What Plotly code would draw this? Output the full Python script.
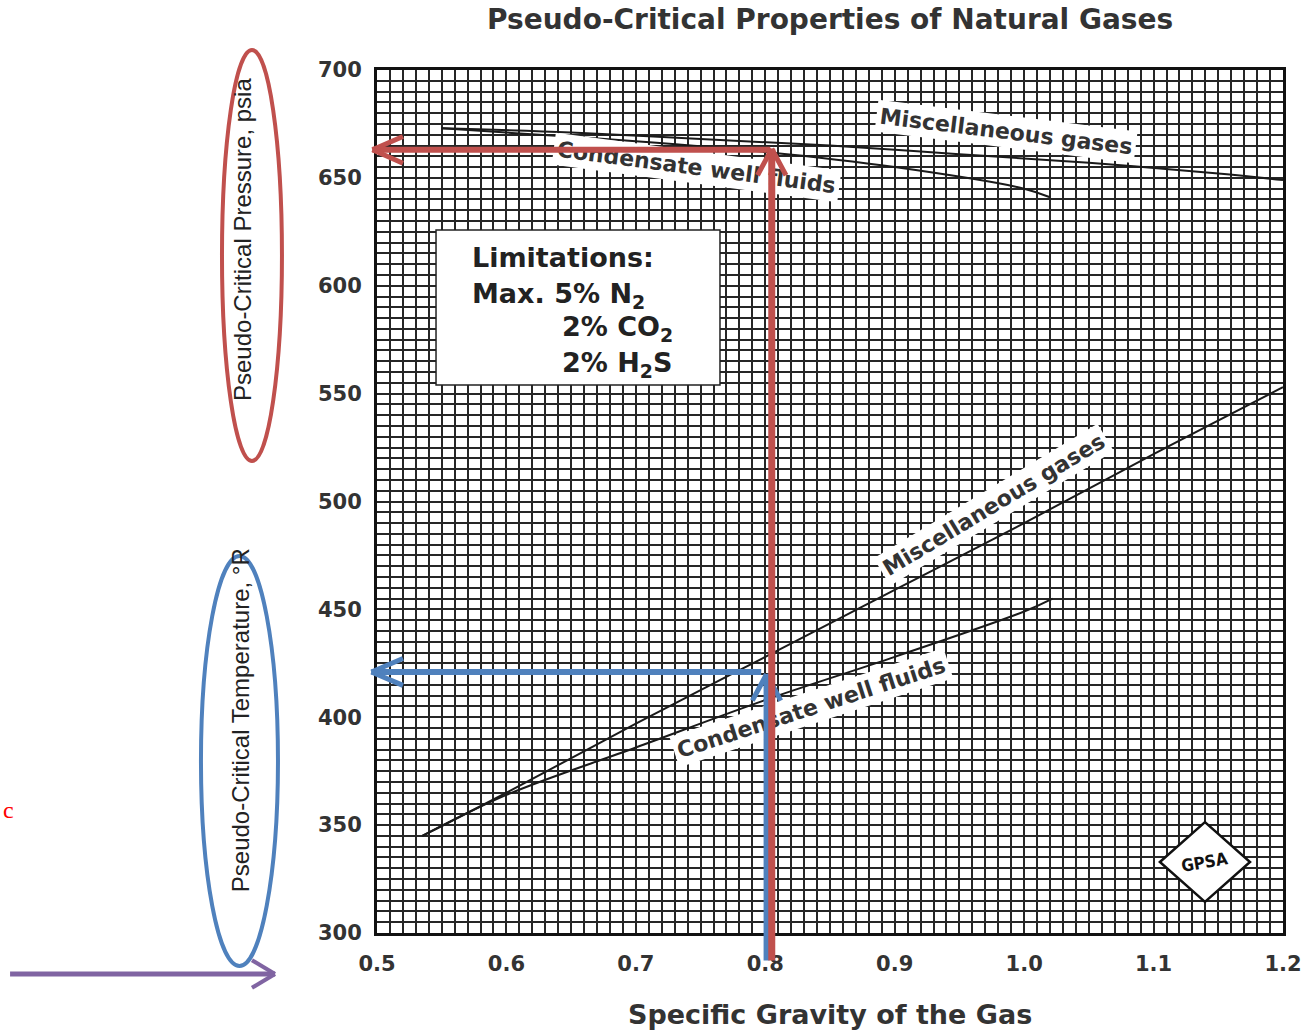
import plotly.graph_objects as go

# ---------------- data ----------------
# Pseudo-critical pressure, psia
misc_p_sg = [0.55, 0.65, 0.75, 0.85, 0.95, 1.05, 1.15, 1.20]
misc_p = [673, 671, 668, 665, 661, 657, 652, 649]
cond_p_sg = [0.55, 0.60, 0.70, 0.80, 0.90, 1.00, 1.02]
cond_p = [673, 671, 667, 662, 655, 645, 641]
# Pseudo-critical temperature, R
misc_t_sg = [0.535, 0.60, 0.70, 0.80, 0.90, 1.00, 1.10, 1.20]
misc_t = [345, 365, 397, 428, 459, 490, 522, 553]
cond_t_sg = [0.535, 0.60, 0.70, 0.80, 0.90, 1.00, 1.022]
cond_t = [345, 364, 386, 408, 428, 449, 455]

x_ticks = [0.5, 0.6, 0.7, 0.8, 0.9, 1.0, 1.1, 1.2]
y_ticks = [300, 350, 400, 450, 500, 550, 600, 650, 700]

# example reading drawn with arrows
read_sg_red = 0.805
read_sg_blue = 0.801
read_ppc = 663
read_tpc = 421
arrow_base = 286.6     # bottom end of vertical arrows (below axis)
arrow_tip_x = 0.4965   # left tip of horizontal arrows

# label positions / text
curve_labels = [
    ("Miscellaneous gases", 0.986, 671.3, 7),
    ("Condensate well fluids", 0.747, 654.6, 7.5),
    ("Miscellaneous gases", 0.977, 498.4, -31),
    ("Condensate well fluids", 0.836, 404.3, -18),
]
limit_lines = [
    ("Limitations:", 0.5719, 612.9),
    ("Max. 5% N<sub>2</sub>", 0.5719, 595.7),
    ("2% CO<sub>2</sub>", 0.6414, 580.0),
    ("2% H<sub>2</sub>S", 0.6414, 563.7),
]
box_x = [0.5456, 0.765]
box_y = [554, 625.8]
logo_x, logo_y = 1.1397, 332.9

TXT = "#333333"
FONT = "Liberation Sans, Arial, sans-serif"
WIDE = "DejaVu Sans, sans-serif"
RED = "#c0504d"
BLUE = "#4f81bd"
PURPLE = "#8064a2"

fig = go.Figure()
for xs, ys in [(misc_p_sg, misc_p), (cond_p_sg, cond_p), (misc_t_sg, misc_t), (cond_t_sg, cond_t)]:
    fig.add_trace(go.Scatter(x=xs, y=ys, mode="lines", line=dict(color="#1a1a1a", width=2),
                             line_shape="spline", showlegend=False, hoverinfo="skip"))

grid_col = "#262626"
tickfont = dict(family=WIDE, size=21, color=TXT, weight="bold")
fig.update_xaxes(range=[0.5, 1.2], tickvals=x_ticks, ticktext=[f"{v:.1f}" for v in x_ticks],
                 showgrid=True, gridcolor=grid_col, gridwidth=1.6,
                 minor=dict(dtick=0.01, showgrid=True, gridcolor=grid_col, gridwidth=1.6),
                 showline=True, linecolor="#111111", linewidth=3, mirror=True,
                 ticks="outside", ticklen=10, tickcolor="rgba(0,0,0,0)",
                 ticklabeloverflow="allow", automargin=False,
                 tickfont=tickfont, zeroline=False)
fig.update_yaxes(range=[300, 700], tickvals=y_ticks,
                 showgrid=True, gridcolor=grid_col, gridwidth=1.6,
                 minor=dict(dtick=5, showgrid=True, gridcolor=grid_col, gridwidth=1.6),
                 showline=True, linecolor="#111111", linewidth=3, mirror=True,
                 ticks="outside", ticklen=8, tickcolor="rgba(0,0,0,0)",
                 ticklabeloverflow="allow", automargin=False,
                 tickfont=tickfont, zeroline=False)

shapes = []
# Limitations box
shapes.append(dict(type="rect", xref="x", yref="y", x0=box_x[0], x1=box_x[1], y0=box_y[0], y1=box_y[1],
                   fillcolor="white", line=dict(color="#222222", width=1.5), layer="above"))
# GPSA diamond logo
hw, hh = 0.0348, 18.5
shapes.append(dict(type="path", xref="x", yref="y", layer="above",
                   path=f"M {logo_x-hw},{logo_y} L {logo_x},{logo_y+hh} L {logo_x+hw},{logo_y} L {logo_x},{logo_y-hh} Z",
                   fillcolor="white", line=dict(color="#111111", width=2.5)))
# ellipses around axis titles
shapes.append(dict(type="circle", xref="paper", yref="paper", x0=-0.1711, x1=-0.1049, y0=0.5469, y1=1.0232,
                   line=dict(color=RED, width=4)))
shapes.append(dict(type="circle", xref="paper", yref="paper", x0=-0.1943, x1=-0.1093, y0=-0.0382, y1=0.4369,
                   line=dict(color=BLUE, width=4)))
# purple arrow
py = -0.0475
shapes.append(dict(type="line", xref="paper", yref="paper", x0=-0.405, x1=-0.1126, y0=py, y1=py,
                   line=dict(color=PURPLE, width=5)))
shapes.append(dict(type="line", xref="paper", yref="paper", x0=-0.1126, x1=-0.138, y0=py, y1=py + 0.016,
                   line=dict(color=PURPLE, width=4)))
shapes.append(dict(type="line", xref="paper", yref="paper", x0=-0.1126, x1=-0.138, y0=py, y1=py - 0.016,
                   line=dict(color=PURPLE, width=4)))
fig.update_layout(shapes=shapes)

ann = []
# curve labels
for t, x, y, a in curve_labels:
    ann.append(dict(x=x, y=y, xref="x", yref="y", text=t, showarrow=False, textangle=a,
                    xanchor="center", yanchor="middle", bgcolor="white", borderpad=3,
                    font=dict(family=WIDE, size=22, color=TXT, weight="bold")))
# limitations text
lim_font = dict(family=WIDE, size=27, color="#222222", weight="bold")
for t, x, y in limit_lines:
    ann.append(dict(x=x, y=y, xref="x", yref="y", text=t, xanchor="left", yanchor="middle",
                    showarrow=False, font=lim_font))
# logo text
ann.append(dict(x=logo_x, y=logo_y, xref="x", yref="y", text="GPSA", showarrow=False, textangle=-10,
                xanchor="center", yanchor="middle",
                font=dict(family="DejaVu Sans Condensed, DejaVu Sans, sans-serif", size=17,
                          color="#111111", weight="bold")))
# titles
ann.append(dict(x=0.5, y=1.058, xref="paper", yref="paper", text="Pseudo-Critical Properties of Natural Gases",
                xanchor="center", yanchor="middle",
                showarrow=False, font=dict(family=WIDE, size=28, color=TXT, weight="bold")))
ann.append(dict(x=0.5, y=-0.0950, xref="paper", yref="paper", text="Specific Gravity of the Gas",
                xanchor="center", yanchor="middle",
                showarrow=False, font=dict(family=WIDE, size=27, color=TXT, weight="bold")))
ytfont = dict(family=FONT, size=24, color="#222222")
ann.append(dict(x=-0.149, y=0.803, xref="paper", yref="paper", text="Pseudo-Critical Pressure, psia",
                xanchor="center", yanchor="middle",
                showarrow=False, textangle=-90, font=ytfont))
ann.append(dict(x=-0.151, y=0.2468, xref="paper", yref="paper", text="Pseudo-Critical Temperature, °R",
                xanchor="center", yanchor="middle",
                showarrow=False, textangle=-90, font=ytfont))
ann.append(dict(x=-0.4150, y=0.1425, xref="paper", yref="paper", text="c", showarrow=False,
                xanchor="left", yanchor="middle",
                font=dict(family="Liberation Serif, serif", size=24, color="#ff0000")))


def seg(x, y, ax, ay, color, width):
    return dict(x=x, y=y, ax=ax, ay=ay, xref="x", yref="y", axref="x", ayref="y", text="",
                showarrow=True, arrowhead=0, arrowwidth=width, arrowcolor=color, standoff=0,
                startstandoff=0)

adx, ady = 0.0247, 6.5     # horizontal chevron arm size
udx, udy = 0.0116, 13.0    # vertical chevron arm size
# blue vertical + chevron
ann.append(seg(read_sg_blue, read_tpc - 1, read_sg_blue, arrow_base, BLUE, 6))
ann.append(seg(read_sg_blue, read_tpc - 1, read_sg_blue - udx, read_tpc - 1 - udy, BLUE, 5))
ann.append(seg(read_sg_blue, read_tpc - 1, read_sg_blue + udx, read_tpc - 1 - udy, BLUE, 5))
# blue horizontal + chevron
ann.append(seg(arrow_tip_x - 0.0008, read_tpc, read_sg_blue - 0.003, read_tpc, BLUE, 6))
ann.append(seg(arrow_tip_x - 0.0008, read_tpc, arrow_tip_x + adx, read_tpc + ady, BLUE, 5))
ann.append(seg(arrow_tip_x - 0.0008, read_tpc, arrow_tip_x + adx, read_tpc - ady, BLUE, 5))
# red vertical + chevron
ann.append(seg(read_sg_red, read_ppc + 0.5, read_sg_red, arrow_base, RED, 7))
ann.append(seg(read_sg_red, read_ppc + 0.5, read_sg_red - udx, read_ppc + 0.5 - udy, RED, 5))
ann.append(seg(read_sg_red, read_ppc + 0.5, read_sg_red + udx, read_ppc + 0.5 - udy, RED, 5))
# red horizontal + chevron
ann.append(seg(arrow_tip_x, read_ppc, read_sg_red, read_ppc, RED, 6))
ann.append(seg(arrow_tip_x, read_ppc, arrow_tip_x + adx, read_ppc + ady, RED, 5))
ann.append(seg(arrow_tip_x, read_ppc, arrow_tip_x + adx, read_ppc - ady, RED, 5))

fig.update_layout(annotations=ann, width=1306, height=1032,
                  margin=dict(l=377, r=23, t=70, b=99, autoexpand=False),
                  paper_bgcolor="white", plot_bgcolor="white", showlegend=False)

# remove the default 8 px page margin so the figure fills the window exactly
fig.write_html("out.html", config={"displayModeBar": False},
               post_script="document.body.style.margin='0px';")
